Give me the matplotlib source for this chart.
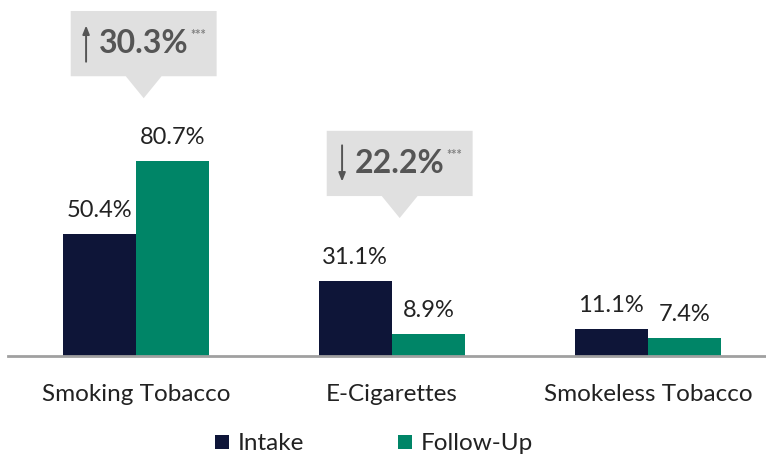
import matplotlib.pyplot as plt
from matplotlib.patches import Polygon
import numpy as np

plt.rcParams['font.family'] = ['Lato', 'DejaVu Sans']

# data
categories = ['Smoking Tobacco', 'E-Cigarettes', 'Smokeless Tobacco']
intake = [50.4, 31.1, 11.1]
follow_up = [80.7, 8.9, 7.4]
series_names = ['Intake', 'Follow-Up']
# callouts: group index, change text, direction (+1 up, -1 down)
changes = [(0, '30.3%', 1), (1, '22.2%', -1)]

c_intake = '#0e1538'
c_follow = '#008567'
box_col = '#e0e0e0'
txt_col = '#222222'
call_col = '#555555'

fig = plt.figure(figsize=(7.66, 4.55), dpi=100)
ax = fig.add_axes([8 / 766, 99 / 455, 758 / 766, 356 / 455])

x = np.arange(len(categories))
w = 0.287
b1 = ax.bar(x - w / 2, intake, w, color=c_intake, label=series_names[0])
b2 = ax.bar(x + w / 2, follow_up, w, color=c_follow, label=series_names[1])

for bars in (b1, b2):
    for r in bars:
        ax.text(r.get_x() + r.get_width() / 2, r.get_height() + 5.5,
                f'{r.get_height():.1f}%', ha='center', va='bottom',
                fontsize=17, color=txt_col)

# callout boxes
for i, txt, d in changes:
    top = max(intake[i], follow_up[i])
    tip_y = top + 26
    tip_x = x[i] + 0.03
    base_y = tip_y + 9.1
    box = Polygon([(tip_x - 0.285, base_y), (tip_x - 0.07, base_y), (tip_x, tip_y),
                   (tip_x + 0.07, base_y), (tip_x + 0.285, base_y),
                   (tip_x + 0.285, base_y + 27), (tip_x - 0.285, base_y + 27)],
                  closed=True, color=box_col, lw=0, clip_on=False)
    ax.add_patch(box)
    cy = base_y + 13.5
    ax_x = tip_x - 0.225
    ax.annotate('', xy=(ax_x, cy + d * 7.5), xytext=(ax_x, cy - d * 7.5),
                arrowprops=dict(arrowstyle='-|>,head_length=0.5,head_width=0.2',
                                color=call_col, lw=1.4, shrinkA=0, shrinkB=0))
    t = ax.text(tip_x - 0.175, cy, txt, ha='left', va='center', fontsize=23,
                fontweight='bold', color=call_col)
    ax.annotate('***', xy=(1, 1), xycoords=t, xytext=(1.5, 0),
                textcoords='offset points', ha='left', va='top',
                fontsize=9, fontweight='bold', color='#808080')

ax.set_xlim(-0.5, (766 - 136) / 256)
ax.set_ylim(0, 356 / 2.416)
for s in ['top', 'right', 'left']:
    ax.spines[s].set_visible(False)
ax.spines['bottom'].set_color('#a0a0a0')
ax.spines['bottom'].set_linewidth(2)
ax.set_yticks([])
ax.set_xticks(x)
ax.set_xticklabels(categories, fontsize=17.5, color=txt_col)
ax.tick_params(axis='x', length=0, pad=20)

fig.legend(loc='center', bbox_to_anchor=(374 / 766, 1 - 444 / 455), ncol=2,
           frameon=False, fontsize=17.5, handlelength=0.55, handleheight=0.55,
           handletextpad=0.35, columnspacing=3.9, labelcolor=txt_col)

fig.savefig('out.png', dpi=100)
